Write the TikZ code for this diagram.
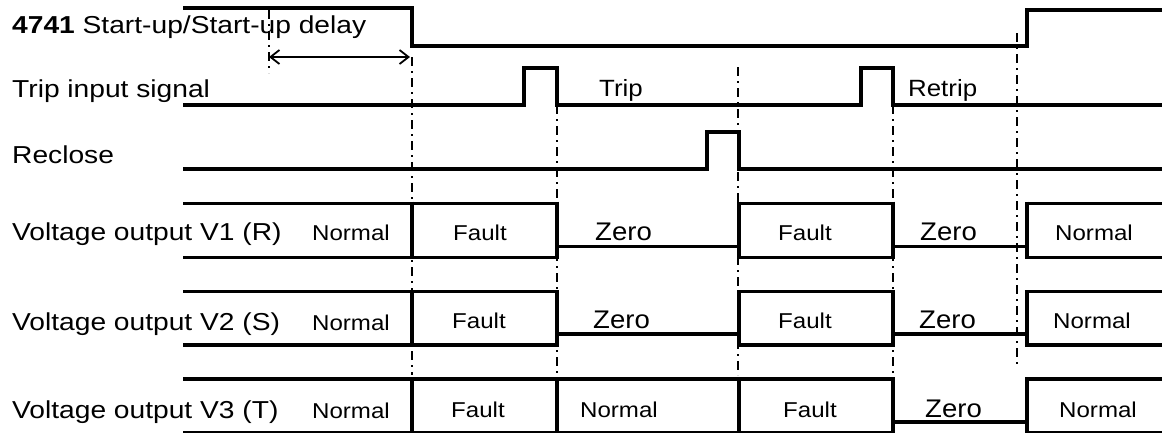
\documentclass[tikz,border=0pt]{standalone}
\usepackage{fontspec}
\setmainfont{Liberation Sans}
\usepackage{graphicx}
\usetikzlibrary{arrows.meta}
\newcommand\rowlbl[1]{\scalebox{1.15}[1]{\fontsize{24.5}{28}\selectfont #1}}
\newcommand\seglbl[1]{\scalebox{1.12}[1]{\fontsize{21.5}{25}\selectfont #1}}
\newcommand\zerolbl[1]{\scalebox{1.08}[1]{\fontsize{25.5}{29}\selectfont #1}}
\newcommand\triplbl[1]{\scalebox{1.1}[1]{\fontsize{23.5}{27}\selectfont #1}}
\begin{document}
\begin{tikzpicture}[x=1pt,y=-1pt,
  sig/.style={line width=3.2pt,line cap=butt,line join=miter},
  guide/.style={line width=2pt,dash pattern=on 9pt off 5pt on 2pt off 5pt},
  lab/.style={anchor=base west,inner sep=0pt},
  dimarrow/.style={line width=1.8pt,{Straight Barb[length=9pt,width=14pt]}-{Straight Barb[length=9pt,width=14pt]}}]
\useasboundingbox (0,0) rectangle (1162,432);
\fill[white] (0,0) rectangle (1162,432);
% guides
\draw[guide] (269,10) -- (269,73);
\draw[guide] (412,57) -- (412,375);
\draw[guide] (557,105) -- (557,375);
\draw[guide] (738,67) -- (738,375);
\draw[guide] (893,105) -- (893,375);
\draw[guide] (1017,33) -- (1017,368);
% arrow
\coordinate (a1) at (269,57);
\coordinate (a2) at (410,57);
\draw[dimarrow] (a1) -- (a2);
% row 1
\draw[sig] (183,8) -- (412,8) -- (412,46) -- (1027,46) -- (1027,10) -- (1162,10);
% row 2
\draw[sig] (183,105) -- (524,105) -- (524,68) -- (557,68) -- (557,105) -- (861,105) -- (861,68) -- (893,68) -- (893,105) -- (1162,105);
% row 3
\draw[sig] (183,169) -- (707,169) -- (707,132) -- (739,132) -- (739,169) -- (1162,169);
% V1
\draw[sig] (183,203.3) -- (557,203.3) (739,203.3) -- (893,203.3) (1027,203.3) -- (1162,203.3);
\draw[sig] (183,257.3) -- (557,257.3) (739,257.3) -- (893,257.3) (1027,257.3) -- (1162,257.3);
\draw[sig] (557,246.7) -- (739,246.7) (893,246.7) -- (1027,246.7);
\foreach \xx in {412,557,739,893,1027} \draw[sig] (\xx,201.7) -- (\xx,258.9);
% V2
\draw[sig] (183,291.7) -- (557,291.7) (739,291.7) -- (893,291.7) (1027,291.7) -- (1162,291.7);
\draw[sig] (183,345) -- (557,345) (739,345) -- (893,345) (1027,345) -- (1162,345);
\draw[sig] (557,334) -- (739,334) (893,334) -- (1027,334);
\foreach \xx in {412,557,739,893,1027} \draw[sig] (\xx,290.1) -- (\xx,346.6);
% V3
\draw[sig] (183,379) -- (893,379) (1027,379) -- (1162,379);
\draw[sig] (183,432.5) -- (893,432.5) (1027,432.5) -- (1162,432.5);
\draw[sig] (893,422) -- (1027,422);
\foreach \xx in {412,557,739,893,1027} \draw[sig] (\xx,377.4) -- (\xx,433);
% row labels
\node[lab] (l1) at (12,33) {\rowlbl{\textbf{4741} Start-up/Start-up delay}};
\node[lab] (l2) at (12,97) {\rowlbl{Trip input signal}};
\node[lab] (l3) at (12,163) {\rowlbl{Reclose}};
\node[lab] (l4) at (12,240) {\rowlbl{Voltage output V1 (R)}};
\node[lab] (l5) at (12,330) {\rowlbl{Voltage output V2 (S)}};
\node[lab] (l6) at (12,418) {\rowlbl{Voltage output V3 (T)}};
\node[lab] (trip) at (599,96) {\triplbl{Trip}};
\node[lab] (retrip) at (908,96) {\triplbl{Retrip}};
% V1 segment labels
\node[lab] (v1a) at (312,240) {\seglbl{Normal}};
\node[lab] (v1b) at (453,240) {\seglbl{Fault}};
\node[lab] (v1c) at (595,240) {\zerolbl{Zero}};
\node[lab] (v1d) at (778,240) {\seglbl{Fault}};
\node[lab] (v1e) at (920,240) {\zerolbl{Zero}};
\node[lab] (v1f) at (1055,240) {\seglbl{Normal}};
% V2 segment labels
\node[lab] (v2a) at (312,330) {\seglbl{Normal}};
\node[lab] (v2b) at (452,328) {\seglbl{Fault}};
\node[lab] (v2c) at (593,328) {\zerolbl{Zero}};
\node[lab] (v2d) at (778,328) {\seglbl{Fault}};
\node[lab] (v2e) at (919,328) {\zerolbl{Zero}};
\node[lab] (v2f) at (1053,328) {\seglbl{Normal}};
% V3 segment labels
\node[lab] (v3a) at (312,418) {\seglbl{Normal}};
\node[lab] (v3b) at (451,417) {\seglbl{Fault}};
\node[lab] (v3c) at (580,417) {\seglbl{Normal}};
\node[lab] (v3d) at (783,417) {\seglbl{Fault}};
\node[lab] (v3e) at (925,417) {\zerolbl{Zero}};
\node[lab] (v3f) at (1059,417) {\seglbl{Normal}};
\end{tikzpicture}
\end{document}
